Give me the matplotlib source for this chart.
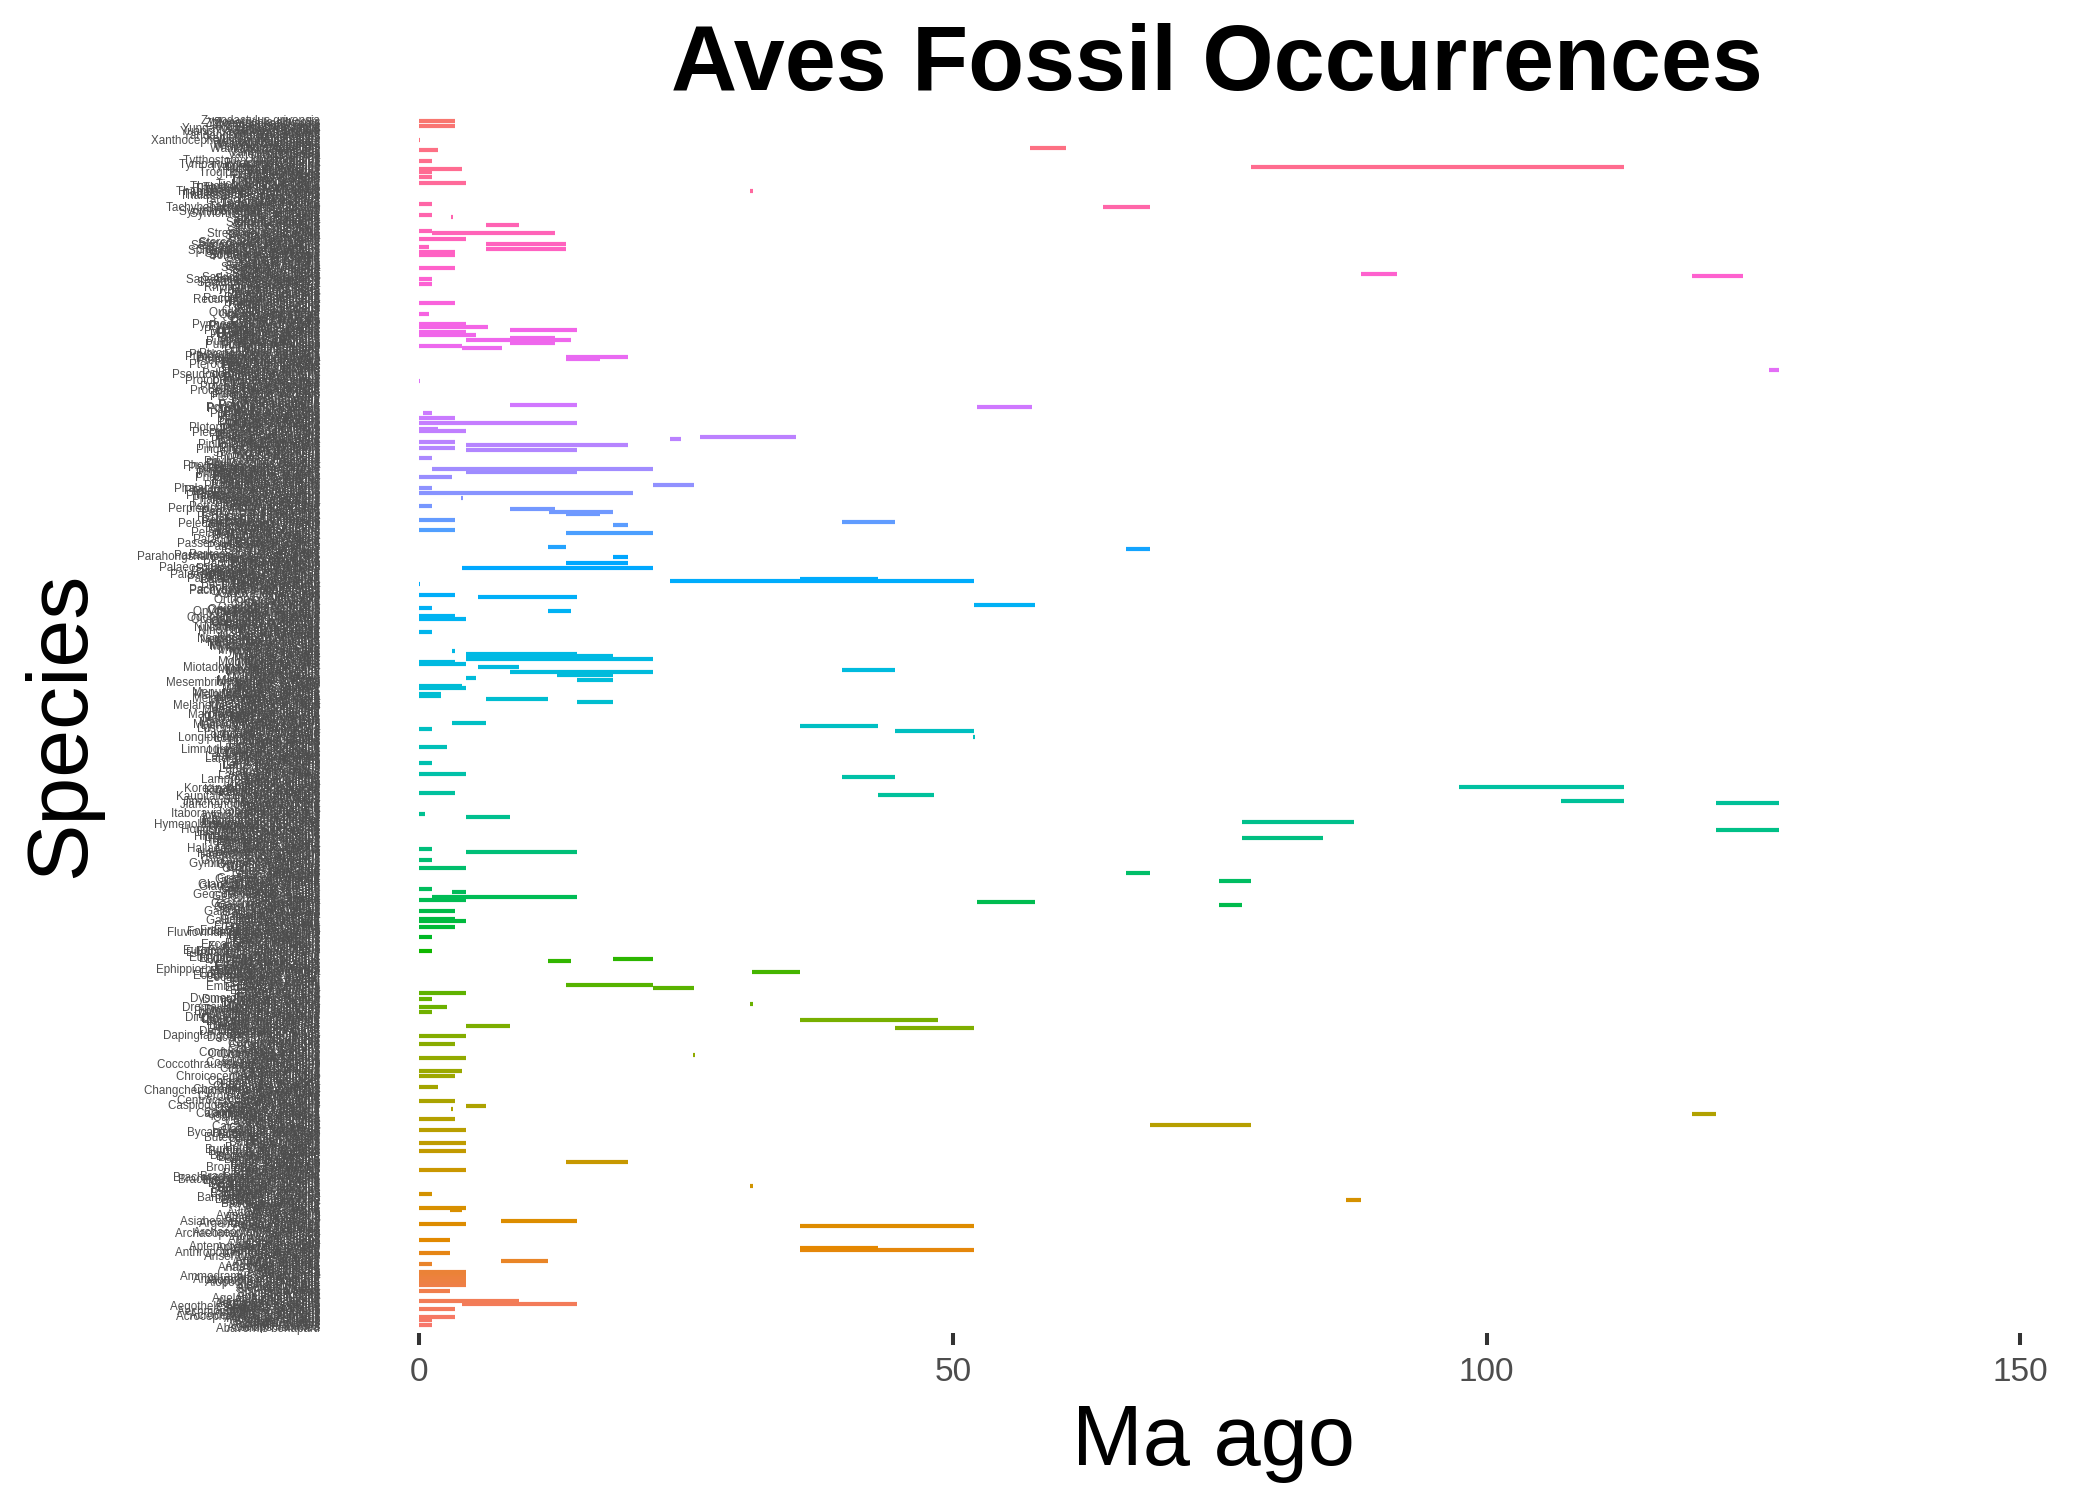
import matplotlib
matplotlib.use("Agg")
import matplotlib.pyplot as plt
import numpy as np

plt.rcParams['font.family'] = ['Liberation Sans', 'DejaVu Sans']

# species in factor order (bottom -> top)
species = [
    # A
    "Abavornis bonaparti", "Acanthis flammea", "Accipiter badius", "Accipiter cooperii", "Accipiter gentilis",
    "Accipiter nisus", "Accipiter striatus", "Aceros undulatus", "Acridotheres tristis",
    "Acrocephalus arundinaceus", "Acrocephalus scirpaceus", "Actitis hypoleucos", "Actitis macularius",
    "Aechmophorus occidentalis", "Aegithalos caudatus", "Aegolius acadicus", "Aegolius funereus",
    "Aegotheles novaezealandiae", "Aegotheles savesi", "Aegypius monachus", "Aepyornis maximus",
    "Aethia cristatella", "Aethia pusilla", "Agelaius phoeniceus", "Agelaius tricolor", "Aix galericulata",
    "Aix sponsa", "Alauda arvensis", "Alca torda", "Alcedo atthis", "Alectoris chukar", "Alectoris graeca",
    "Alectoris rufa", "Alectura lathami", "Alle alle", "Alopochen aegyptiaca", "Alopochen mauritiana",
    "Amaurornis phoenicurus", "Amazona vittata", "Ammodramus savannarum", "Anas acuta", "Anas americana",
    "Anas clypeata", "Anas crecca", "Anas discors", "Anas penelope", "Anas platyrhynchos",
    "Anas querquedula", "Anas rubripes", "Anas strepera", "Anhinga anhinga", "Anhinga grandis",
    "Anser albifrons", "Anser anser", "Anser brachyrhynchus", "Anser fabalis", "Anthropoides virgo",
    "Anthropornis nordenskjoeldi", "Anthus pratensis", "Anthus spinoletta", "Anthus trivialis",
    "Aptenodytes forsteri", "Aptenodytes patagonicus", "Apteryx australis", "Apteryx owenii", "Apus apus",
    "Apus melba", "Aquila chrysaetos", "Aquila heliaca", "Aquila nipalensis", "Ara macao",
    "Archaeopteryx lithographica", "Archaeopteryx siemensii", "Ardea alba", "Ardea cinerea",
    "Ardea herodias", "Ardea purpurea", "Ardeola ralloides", "Arenaria interpres", "Argentavis magnificens",
    "Asiahesperornis bazhanovi", "Asio flammeus", "Asio otus", "Athene cunicularia", "Athene noctua",
    "Avisaurus archibaldi", "Aythya affinis", "Aythya americana", "Aythya collaris", "Aythya ferina",
    "Aythya fuligula", "Aythya marila", "Aythya nyroca", "Aythya valisineria",
    # B
    "Baeolophus bicolor", "Balaeniceps rex", "Balearica pavonina", "Balearica regulorum",
    "Bambusicola thoracicus", "Baptornis advenus", "Baptornis varneri", "Bartramia longicauda",
    "Bathornis celeripes", "Bathornis veredus", "Bombycilla cedrorum", "Bombycilla garrulus",
    "Bombycilla japonica", "Bonasa umbellus", "Bostrychia hagedash", "Botaurus lentiginosus",
    "Botaurus stellaris", "Brachypteryx montana", "Brachyramphus brevirostris", "Brachyramphus marmoratus",
    "Bradypterus baboecala", "Branta bernicla", "Branta canadensis", "Branta dickeyi", "Branta hutchinsii",
    "Branta leucopsis", "Branta ruficollis", "Brontornis burmeisteri", "Bubo ascalaphus", "Bubo bubo",
    "Bubo scandiacus", "Bubo virginianus", "Bubulcus ibis", "Bucephala albeola", "Bucephala clangula",
    "Bucephala islandica", "Bucorvus leadbeateri", "Bulweria bulwerii", "Bulweria fallax",
    "Burhinus oedicnemus", "Burhinus vermiculatus", "Buteo buteo", "Buteo jamaicensis", "Buteo lagopus",
    "Buteo lineatus", "Buteo platypterus", "Buteo regalis", "Buteo rufinus", "Buteo swainsoni",
    "Buteogallus urubitinga", "Butorides striata", "Butorides virescens", "Bycanistes bucinator",
    "Bycanistes subcylindricus",
    # C
    "Cacatua galerita", "Cacatua sulphurea", "Cairina moschata", "Calcarius lapponicus", "Calidris alba",
    "Calidris alpina", "Calidris canutus", "Calidris ferruginea", "Calidris maritima", "Calidris minuta",
    "Callipepla californica", "Callipepla gambelii", "Calonectris diomedea", "Caprimulgus europaeus",
    "Caprimulgus vociferus", "Caracara plancus", "Cardinalis cardinalis", "Carduelis carduelis",
    "Carduelis chloris", "Caspiodontornis kobistanicus", "Casuarius casuarius", "Cathartes aura",
    "Catharus guttatus", "Centrocercus urophasianus", "Cepphus columba", "Cepphus grylle",
    "Cerorhinca monocerata", "Certhia familiaris", "Ceryle rudis", "Chaetura pelagica",
    "Changchengornis hengdaoziensis", "Charadrius alexandrinus", "Charadrius hiaticula",
    "Charadrius vociferus", "Chauna torquata", "Chen caerulescens", "Chen rossii", "Chlamydotis undulata",
    "Chlidonias niger", "Chloephaga picta", "Chordeiles minor", "Chroicocephalus ridibundus",
    "Ciconia ciconia", "Ciconia maltha", "Ciconia nigra", "Cinclus cinclus", "Circaetus gallicus",
    "Circus aeruginosus", "Circus cyaneus", "Clangula hyemalis", "Coccothraustes coccothraustes",
    "Coccyzus americanus", "Colaptes auratus", "Colinus virginianus", "Colius striatus", "Columba livia",
    "Columba oenas", "Columba palumbus", "Colymboides minutus", "Confuciusornis sanctus", "Contopus virens",
    "Coracias garrulus", "Corvus corax", "Corvus corone", "Corvus frugilegus", "Corvus monedula",
    "Coturnix coturnix", "Crax rubra", "Cuculus canorus", "Cygnus olor",
    # D
    "Dacelo novaeguineae", "Dapingfangornis sentisorhinus", "Dasornis emuinus", "Delichon urbicum",
    "Dendragapus obscurus", "Dendrocopos major", "Dendrocopos minor", "Dendrocygna arborea",
    "Dendrocygna bicolor", "Dendrocygna viduata", "Dendroica petechia", "Diatryma gigantea",
    "Dicrurus macrocercus", "Didunculus strigirostris", "Dinopium benghalense", "Dinornis novaezealandiae",
    "Dinornis robustus", "Diomedea epomophora", "Diomedea exulans", "Diomedeoides brodkorbi",
    "Dolichonyx oryzivorus", "Dromaius baudinianus", "Dromaius novaehollandiae", "Dromornis stirtoni",
    "Dryocopus martius", "Dryocopus pileatus", "Dryolimnas cuvieri", "Ducula pacifica",
    "Dumetella carolinensis", "Dysmorodrepanis munroi",
    # E
    "Eclectus roratus", "Egretta caerulea", "Egretta garzetta", "Egretta thula", "Egretta tricolor",
    "Elanus caeruleus", "Elanus leucurus", "Emberiza citrinella", "Emberiza schoeniclus", "Emeus crassus",
    "Emeus huttoni", "Empidonax traillii", "Enantiornis leali", "Enantiornis martini", "Eoalulavis hoyasi",
    "Eocathayornis walkeri", "Eoconfuciusornis zhengi", "Eoenantiornis buhleri", "Eogranivora edentulata",
    "Eolophus roseicapilla", "Eopengornis martini", "Ephippiorhynchus senegalensis", "Eremophila alpestris",
    "Erithacus rubecula", "Esacus magnirostris", "Eudocimus albus", "Eudocimus ruber", "Eudromia elegans",
    "Eudyptes chrysocome", "Eudyptes chrysolophus", "Eudyptes pachyrhynchus", "Eudyptula minor",
    "Eulampis jugularis", "Euphagus cyanocephalus", "Eupodotis senegalensis", "Eurotrochilus inexpectatus",
    "Euryapteryx curtus", "Eurypyga helias", "Eurystomus orientalis", "Excalfactoria chinensis",
    # F
    "Falco columbarius", "Falco mexicanus", "Falco peregrinus", "Falco rusticolus", "Falco sparverius",
    "Falco tinnunculus", "Ficedula albicollis", "Ficedula hypoleuca", "Fluvioviridavis platyrhamphus",
    "Foudia madagascariensis", "Francolinus francolinus", "Fratercula arctica", "Fratercula cirrhata",
    "Fregata magnificens", "Fringilla coelebs", "Fulica atra",
    # G
    "Galerida cristata", "Gallicolumba luzonica", "Gallinago gallinago", "Gallinago media",
    "Gallinula chloropus", "Gallinula comeri", "Gallinula galeata", "Gallirallus australis",
    "Gallirallus philippensis", "Gallus gallus", "Gallus varius", "Gansus yumenensis", "Garrulus glandarius",
    "Gastornis giganteus", "Gastornis parisiensis", "Gavia adamsii", "Gavia arctica", "Gavia immer",
    "Gavia stellata", "Gelochelidon nilotica", "Genyornis newtoni", "Geococcyx californianus",
    "Geospiza fortis", "Geothlypis trichas", "Geranoides jepseni", "Geronticus eremita",
    "Glareola pratincola", "Glaucidium brasilianum", "Glaucidium passerinum", "Gobipteryx minuta",
    "Goura cristata", "Gracula religiosa", "Gracupica nigricollis", "Grallina cyanoleuca", "Grus americana",
    "Grus antigone", "Grus canadensis", "Grus grus", "Grus japonensis", "Grus rubicunda",
    "Guaruba guarouba", "Guttera pucherani", "Gygis alba", "Gymnogyps amplus", "Gymnogyps californianus",
    "Gypaetus barbatus", "Gypohierax angolensis", "Gyps africanus", "Gyps fulvus", "Gyps rueppelli",
    # H
    "Haematopus bachmani", "Haematopus ostralegus", "Haematopus palliatus", "Halcyon smyrnensis",
    "Haliaeetus albicilla", "Haliaeetus leucocephalus", "Haliastur indus", "Harpagornis moorei",
    "Harpia harpyja", "Hemiprocne comata", "Hesperornis crassipes", "Hesperornis regalis",
    "Heteroscelus incanus", "Hieraaetus pennatus", "Himantopus himantopus", "Himantopus mexicanus",
    "Hippolais icterina", "Hirundo rustica", "Histrionicus histrionicus", "Hongshanornis longicresta",
    "Hydrobates pelagicus", "Hydroprogne caspia", "Hylocichla mustelina", "Hymenolaimus malacorhynchos",
    # I J K
    "Iberomesornis romerali", "Ibidorhyncha struthersii", "Ichthyornis antecessor", "Ichthyornis dispar",
    "Icterus galbula", "Icterus spurius", "Ictinia mississippiensis", "Itaboravis elaphrocnemoides",
    "Ixobrychus exilis", "Ixobrychus minutus",
    "Jabiru mycteria", "Jacana jacana", "Jacana spinosa", "Jeholornis prima", "Jianchangornis microdonta",
    "Jibeinia luanhera", "Jinzhouornis zhangjiyingia", "Junco hyemalis", "Junco phaeonotus", "Jynx torquilla",
    "Kaupifalco monogrammicus", "Kelenken guillermoi", "Ketupa ketupu", "Ketupa zeylonensis",
    "Kittacincla malabarica", "Kizylkumavis cretacea", "Koreanaornis hamanensis", "Kumimanu biceae",
    "Kupoupou stilwelli", "Kuszholia mengi",
    # L
    "Lagopus lagopus", "Lagopus leucura", "Lagopus muta", "Lamprotornis superbus", "Lanius collurio",
    "Lanius excubitor", "Lanius ludovicianus", "Lanius senator", "Larus argentatus", "Larus californicus",
    "Larus canus", "Larus delawarensis", "Larus fuscus", "Larus glaucescens", "Larus hyperboreus",
    "Larus marinus", "Larus occidentalis", "Larus ridibundus", "Laterallus jamaicensis", "Leipoa ocellata",
    "Leptoptilos crumenifer", "Leptoptilos dubius", "Leptoptilos robustus", "Leucosticte arctoa",
    "Limnodromus griseus", "Limnodromus scolopaceus", "Limosa fedoa", "Limosa haemastica",
    "Limosa lapponica", "Limosa limosa", "Lithornis celetius", "Lithornis plebius", "Locustella naevia",
    "Lonchura punctulata", "Longipteryx chaoyangensis", "Longirostravis hani", "Lophodytes cucullatus",
    "Lophura nycthemera", "Loxia curvirostra", "Loxia leucoptera", "Lullula arborea",
    "Luscinia megarhynchos", "Luscinia svecica", "Lymnocryptes minimus",
    # M
    "Macrodontopteryx oweni", "Macronectes giganteus", "Macronectes halli", "Malurus cyaneus",
    "Mancalla californiensis", "Mancalla cedrosensis", "Mareca penelope", "Marplesornis mcculloughi",
    "Megaceryle alcyon", "Megaceryle maxima", "Megadyptes antipodes", "Megalapteryx didinus",
    "Megascops asio", "Melanerpes carolinus", "Melanerpes erythrocephalus", "Melanitta americana",
    "Melanitta fusca", "Melanitta nigra", "Melanitta perspicillata", "Melanocorypha calandra",
    "Meleagris gallopavo", "Meleagris ocellata", "Melopsittacus undulatus", "Melospiza melodia",
    "Menura novaehollandiae", "Mergellus albellus", "Mergus australis", "Mergus merganser",
    "Mergus serrator", "Merops apiaster", "Merops ornatus", "Mesembriornis milneedwardsi",
    "Messelornis cristata", "Micrathene whitneyi", "Microgoura meeki", "Micropsitta pusio",
    "Milvus migrans", "Milvus milvus", "Mimus gilvus", "Mimus polyglottos", "Miocitta galbreathi",
    "Mionetta blanchardi", "Miotadorna sanctibathansi", "Mirafra javanica", "Mniotilta varia",
    "Molothrus ater", "Monticola saxatilis", "Montifringilla nivalis", "Morus bassanus", "Morus capensis",
    "Morus serrator", "Motacilla alba", "Motacilla cinerea", "Motacilla flava", "Muscicapa striata",
    "Mycteria americana", "Mycteria ibis", "Myiarchus crinitus", "Myiopsitta monachus",
    "Mystacornis crossleyi",
    # N
    "Nanantius eos", "Nannopterum auritum", "Nannopterum harrisi", "Necrosyrtes monachus",
    "Neophron percnopterus", "Nesospiza acunhae", "Nestor meridionalis", "Nestor notabilis",
    "Netta peposaca", "Netta rufina", "Ninox novaeseelandiae", "Nothura maculosa",
    "Nucifraga caryocatactes", "Numenius americanus", "Numenius arquata", "Nycticorax nycticorax",
    # O
    "Oceanites oceanicus", "Oceanodroma castro", "Oceanodroma leucorhoa", "Ocyphaps lophotes",
    "Odontophorus gujanensis", "Oena capensis", "Oenanthe hispanica", "Oenanthe oenanthe",
    "Onychoprion anaethetus", "Onychoprion fuscatus", "Opisthocomus hoazin", "Oporornis formosus",
    "Oreortyx pictus", "Oriolus chinensis", "Oriolus oriolus", "Ortalis canicollis", "Ortalis vetula",
    "Orthonyx temminckii", "Otis tarda", "Otus asio", "Otus scops", "Oxyura australis",
    "Oxyura jamaicensis", "Oxyura leucocephala",
    # P
    "Pachydyptes ponderosus", "Pachyornis elephantopus", "Pachyornis geranoides", "Pachyptila belcheri",
    "Pachyptila turtur", "Pachyptila vittata", "Pachyramphus aglaiae", "Pagophila eburnea",
    "Palaeeudyptes gunnari", "Palaeeudyptes klekowskii", "Palaelodus ambiguus", "Palaelodus gracilipes",
    "Palaeochenoides mioceanus", "Palaeoglaux artophoron", "Palaeoglaux perrierensis",
    "Palaeortyx brevipes", "Palaeospheniscus bergi", "Palaeospheniscus patagonicus", "Palaeotis weigelti",
    "Pandion haliaetus", "Pandion homalopteron", "Pandion lovensis", "Panurus biarmicus",
    "Parabuteo unicinctus", "Paradisaea apoda", "Parahongshanornis chaoyangensis",
    "Paraortygoides messelensis", "Parkesia noveboracensis", "Parus ater", "Parus caeruleus", "Parus major",
    "Parvigyps praecox", "Passer domesticus", "Passer hispaniolensis", "Passer montanus",
    "Passerculus sandwichensis", "Passerella iliaca", "Passerina cyanea", "Patagopteryx deferrariisi",
    "Pavo cristatus", "Pavo muticus", "Pelagodroma marina", "Pelagornis chilensis",
    "Pelagornis mauretanicus", "Pelagornis miocaenus", "Pelagornis orri", "Pelagornis sandersi",
    "Pelecanoides garnotii", "Pelecanoides urinatrix", "Pelecanus crispus", "Pelecanus erythrorhynchos",
    "Pelecanus occidentalis", "Pelecanus onocrotalus", "Pelecanus rufescens", "Penelope obscura",
    "Penelope purpurascens", "Perdix dauurica", "Perdix perdix", "Pericrocotus flammeus",
    "Perisoreus canadensis", "Pernis apivorus", "Perplexicervix microcephalon", "Petrochelidon fulva",
    "Petrochelidon pyrrhonota", "Petroica australis", "Phaethon aethereus", "Phaethon lepturus",
    "Phaethon rubricauda", "Phalacrocorax aristotelis", "Phalacrocorax atriceps", "Phalacrocorax auritus",
    "Phalacrocorax brasilianus", "Phalacrocorax capensis", "Phalacrocorax carbo", "Phalacrocorax pelagicus",
    "Phalacrocorax penicillatus", "Phalacrocorax perspicillatus", "Phalacrocorax urile",
    "Phalaenoptilus nuttallii", "Phalaropus fulicarius", "Phalaropus lobatus", "Phalaropus tricolor",
    "Phasianus colchicus", "Phasianus versicolor", "Pheucticus ludovicianus", "Philomachus pugnax",
    "Phoebastria albatrus", "Phoebastria immutabilis", "Phoebastria nigripes", "Phoenicopterus croizeti",
    "Phoenicopterus ruber", "Phoenicurus ochruros", "Phoenicurus phoenicurus", "Phorusrhacos longissimus",
    "Phylloscopus collybita", "Phylloscopus sibilatrix", "Phylloscopus trochilus", "Pica hudsonia",
    "Pica pica", "Picoides arcticus", "Picoides pubescens", "Picoides tridactylus", "Picoides villosus",
    "Picus canus", "Picus viridis", "Pinguinus alfrednewtoni", "Pinguinus impennis", "Pinicola enucleator",
    "Pipilo chlorurus", "Pipilo erythrophthalmus", "Piranga ludoviciana", "Piranga olivacea",
    "Pitangus sulphuratus", "Platalea ajaja", "Platalea leucorodia", "Platycercus elegans",
    "Platycercus eximius", "Plectrophenax nivalis", "Plectropterus gambensis", "Plegadis chihi",
    "Plegadis falcinellus", "Ploceus cucullatus", "Plotopterum joaquinensis", "Pluvialis apricaria",
    "Pluvialis dominica", "Pluvialis squatarola", "Podargus strigoides", "Podiceps auritus",
    "Podiceps cristatus", "Podiceps grisegena", "Podiceps nigricollis", "Podiceps parvus",
    "Podilymbus podiceps", "Poecile atricapillus", "Polioptila caerulea", "Polysticta stelleri",
    "Pooecetes gramineus", "Porphyrio hochstetteri", "Porphyrio martinica", "Porphyrio porphyrio",
    "Porzana carolina", "Porzana parva", "Porzana porzana", "Porzana pusilla", "Presbyornis isoni",
    "Presbyornis pervetus", "Primobucco mcgrewi", "Primoscens minutus", "Prinia subflava",
    "Procellaria aequinoctialis", "Procellaria cinerea", "Procellaria parkinsoni",
    "Procellaria westlandica", "Progne chalybea", "Progne subis", "Protoazin parisiensis",
    "Protonotaria citrea", "Protopteryx fengningensis", "Prunella collaris", "Prunella modularis",
    "Psaltriparus minimus", "Pseudodontornis longirostris", "Psilopterus bachmanni", "Psittacula eupatria",
    "Psittacula krameri", "Psittacus erithacus", "Pterocles alchata", "Pterocles exustus",
    "Pterocles orientalis", "Pterodroma arminjoniana", "Pterodroma cahow", "Pterodroma hasitata",
    "Pterodroma macroptera", "Pterodroma mollis", "Pterodroma phaeopygia", "Ptilonorhynchus violaceus",
    "Ptychoramphus aleuticus", "Ptyonoprogne rupestris", "Puffinus assimilis", "Puffinus baroli",
    "Puffinus carneipes", "Puffinus gravis", "Puffinus griseus", "Puffinus lherminieri",
    "Puffinus mauretanicus", "Puffinus nativitatis", "Puffinus opisthomelas", "Puffinus pacificus",
    "Puffinus puffinus", "Puffinus tenuirostris", "Puffinus yelkouan", "Pulsatrix perspicillata",
    "Pycnonotus jocosus", "Pygoscelis adeliae", "Pygoscelis antarcticus", "Pygoscelis grandis",
    "Pygoscelis papua", "Pyrocephalus rubinus", "Pyrrhocorax graculus", "Pyrrhocorax pyrrhocorax",
    "Pyrrhula pyrrhula", "Pyrrhura frontalis",
    # Q R
    "Quelea cardinalis", "Quelea erythrops", "Quelea quelea", "Quercypsitta ivani", "Quercypsitta sudrei",
    "Quiscalus major", "Quiscalus mexicanus", "Quiscalus quiscula",
    "Rallus aquaticus", "Rallus crepitans", "Rallus elegans", "Rallus limicola", "Rallus longirostris",
    "Ramphastos toco", "Raphus cucullatus", "Recurvirostra americana", "Recurvirostra avosetta",
    "Regulus calendula", "Regulus regulus", "Remiz pendulinus", "Rhea americana", "Rhea pennata",
    "Rhodostethia rosea", "Rhynchops niger", "Rhynchotus rufescens", "Riparia riparia",
    "Rissa brevirostris", "Rissa tridactyla",
    # S
    "Sagittarius serpentarius", "Salpinctes obsoletus", "Sapeornis chaoyangensis", "Sarcoramphus papa",
    "Sarkidiornis melanotos", "Saxicola rubetra", "Saxicola rubicola", "Sayornis phoebe", "Scolopax minor",
    "Scolopax rusticola", "Scopus umbretta", "Seiurus aurocapilla", "Selasphorus rufus", "Serinus canaria",
    "Serinus serinus", "Setophaga ruticilla", "Sialia sialis", "Sitta canadensis", "Sitta europaea",
    "Somateria fischeri", "Somateria mollissima", "Somateria spectabilis", "Spheniscus demersus",
    "Spheniscus humboldti", "Spheniscus magellanicus", "Spheniscus mendiculus", "Spheniscus urbinai",
    "Spizella passerina", "Stercorarius longicaudus", "Stercorarius parasiticus", "Stercorarius pomarinus",
    "Stercorarius skua", "Sterna dougallii", "Sterna forsteri", "Sterna hirundo", "Sterna paradisaea",
    "Sternula albifrons", "Streptopelia decaocto", "Streptopelia turtur", "Strix aluco", "Strix nebulosa",
    "Strix occidentalis", "Strix varia", "Struthio camelus", "Sturnella magna", "Sturnella neglecta",
    "Sturnus vulgaris", "Sula dactylatra", "Sula leucogaster", "Sula sula", "Sylvia atricapilla",
    "Sylvia communis", "Sylviornis neocaledoniae", "Synthliboramphus antiquus", "Syrmaticus reevesii",
    "Syrrhaptes paradoxus",
    # T
    "Tachybaptus novaehollandiae", "Tachybaptus ruficollis", "Tachycineta bicolor", "Tadorna ferruginea",
    "Tadorna tadorna", "Talpanas lippa", "Tauraco erythrolophus", "Tetrao tetrix", "Tetrao urogallus",
    "Thalassarche chrysostoma", "Thalassarche melanophris", "Thalasseus sandvicensis",
    "Thambetochen chauliodous", "Thambetochen xanion", "Threskiornis aethiopicus",
    "Threskiornis spinicollis", "Thryothorus ludovicianus", "Tichodroma muraria", "Tinamus major",
    "Torotix clemensi", "Toxostoma rufum", "Tribonyx mortierii", "Tringa glareola", "Tringa nebularia",
    "Tringa totanus", "Troglodytes aedon", "Troglodytes troglodytes", "Turdus iliacus", "Turdus merula",
    "Turdus migratorius", "Turdus philomelos", "Tympanuchus cupido", "Tympanuchus phasianellus",
    "Tyrannus tyrannus", "Tyto alba", "Tytthostonyx glauconiticus",
    # U - Z
    "Upupa antaios", "Upupa epops", "Uria aalge", "Uria lomvia",
    "Vanellus chilensis", "Vanellus vanellus", "Vegavis iaai", "Vireo olivaceus",
    "Waimanu manneringi", "Waimanu tuatahi", "Wellnhoferia grandis", "Wilsonia canadensis",
    "Wilsonia pusilla", "Wimanornis seldeni",
    "Xanthocephalus xanthocephalus", "Xema sabini", "Xenicibis xympithecus", "Xenicus longipes",
    "Yandangornis longicaudus", "Yanornis martini", "Yixianornis grabaui", "Yuanchuavis kompsosoura",
    "Yuhina flavicollis", "Yungavolucris brevipedalis",
    "Zenaida asiatica", "Zenaida macroura", "Zhongjianornis yangi", "Zhyraornis kashkarovi",
    "Zonotrichia albicollis", "Zygodactylus grivensis",
]

H = 0.0117  # Holocene-only records (too short to show)

# oldest occurrence (Ma), same order as species
first_ma = [
    H, H, 1.26, H, H, H, 1.26, H, 3.4, H, H, H, H, H, 3.4, H, H, H, 14.8, H,
    9.4, H, H, H, H, H, H, H, 2.9, H, H, H, 4.4, H, 4.4, H, 4.4, H, 4.4, H,
    4.4, H, 4.4, H, H, H, H, H, 1.26, H, 12.1, H, H, H, H, H, 2.9, H, 52.0, H,
    43.0, H, H, H, H, H, 2.9, H, H, H, H, H, H, H, H, H, 52.0, H, 4.4, H,
    14.8, H, H, H, H, H, H, H, 4.0, H, 4.4, H, H, H, H, H, 88.2, H, H, H,
    1.26, H, H, H, H, H, 31.3, H, H, H, H, H, H, H, H, H, H, H, 4.4, H,
    H, H, H, H, 19.6, H, H, H, H, H, H, H, 4.4, H, H, H, H, H, 4.4, H,
    H, H, H, H, H, H, H, H, 4.4, H, H, H, 77.9, H, H, H, 3.4, H, H, H,
    121.5, H, H, H, 3.2, H, 6.3, H, H, H, 3.4, H, H, H, H, H, H, H, H, H,
    1.76, H, H, H, H, H, H, H, 3.4, H, H, H, 4.0, H, H, H, H, H, H, H,
    H, H, 4.4, H, 25.9, H, H, H, H, H, H, H, 3.4, H, H, H, H, H, 4.4, H,
    H, H, H, H, 52.0, H, 8.5, H, H, H, 48.6, H, H, H, H, H, 1.26, H, H, H,
    2.6, H, 31.3, H, H, H, 1.26, H, H, H, 4.4, H, H, H, 25.8, H, 21.9, H, H, H,
    H, H, H, H, H, H, 35.7, H, H, H, H, H, H, H, 14.2, H, 21.9, H, H, H,
    H, H, 1.26, H, H, H, H, H, H, H, H, H, 1.26, H, H, H, H, H, H, H,
    3.4, H, H, H, 4.4, H, 3.4, H, H, H, H, H, 3.4, H, H, H, 77.1, H, 57.7, H,
    4.4, H, 14.8, H, H, H, 4.4, H, 1.26, H, H, H, H, H, 77.9, H, H, H, H, H,
    68.5, H, H, H, 4.4, H, H, H, H, H, 1.26, H, H, H, H, H, 14.8, H, 1.26, H,
    H, H, H, H, H, H, 84.7, H, H, H, H, H, 127.4, H, H, H, H, H, 87.6, H,
    H, H, 8.5, H, 0.6, H, H, H, H, H, H, H, 127.4, H, 112.9, H, H, H, 48.2, H,
    3.4, H, H, H, 112.9, H, H, H, H, H, H, H, 44.6, H, 4.4, H, H, H, H, H,
    H, H, 1.26, H, H, H, H, H, H, H, H, H, H, H, 2.6, H, H, H, H, H,
    H, H, 52.1, H, H, H, 52.0, H, 1.26, H, 43.0, H, 6.3, H, H, H, H, H, H, H,
    H, H, H, H, H, H, H, H, 18.2, H, 12.1, H, 2.1, H, 2.1, H, H, H, 4.4, H,
    4.0, H, H, H, 18.2, H, 5.3, H, 18.2, H, 21.9, H, 44.6, H, 9.4, H, 4.4, H, 3.4, H,
    21.9, H, 18.2, H, 14.8, H, 3.4, H, H, H, H, H, H, H, H, H, H, H, H, H,
    1.26, H, H, H, H, H, H, H, H, H, 4.4, H, 3.4, H, H, H, 14.2, H, 1.26, H,
    57.7, H, H, H, H, H, 14.8, H, 3.4, H, H, H, H, H, H, H, 0.13, H, 52.0, H,
    43.0, H, H, H, H, H, H, H, 21.9, H, H, H, 19.6, H, H, H, 19.6, H, H, H,
    H, H, 68.5, H, 13.8, H, H, H, H, H, H, H, H, H, 21.9, H, 3.4, H, H, H,
    19.6, H, 44.6, H, 3.4, H, H, H, 17.0, H, 18.2, H, 12.7, H, 1.26, H, H, H, H, H,
    4.1, H, H, H, 20.0, H, H, H, 1.26, H, 25.8, H, H, H, H, H, 3.1, H, H, H,
    14.8, H, 21.9, H, H, H, H, H, H, H, 1.26, H, H, H, H, H, 14.8, H, 3.4, H,
    19.6, H, 3.4, H, 24.5, H, 35.3, H, H, H, 4.4, H, 1.76, H, H, H, 14.8, H, H, H,
    3.4, H, H, H, 1.26, H, H, H, 57.4, H, 14.8, H, H, H, H, H, H, H, H, H,
    H, H, H, H, H, H, H, H, 0.13, H, H, H, H, H, H, H, 127.4, H, H, H,
    H, H, H, H, 17.0, H, 19.6, H, H, H, H, H, 7.8, H, 4.0, H, 12.7, H, 14.2, H,
    12.7, H, 5.3, H, 4.4, H, 14.8, H, 6.5, H, 4.4, H, H, H, H, H, H, H, 0.9, H,
    H, H, H, H, H, H, 3.4, H, H, H, H, H, H, H, H, H, H, H, H, H,
    1.26, H, H, H, 1.26, H, 124.0, H, 91.6, H, H, H, 3.4, H, H, H, H, H, H, H,
    H, H, 3.4, H, 3.4, H, 13.8, H, 0.9, H, 13.8, H, H, H, 4.4, H, H, H, 12.7, H,
    1.26, H, H, H, 9.4, H, H, H, H, H, 3.2, H, 1.26, H, H, H, H, H, 68.5, H,
    1.26, H, H, H, H, H, H, H, H, H, 31.3, H, H, H, H, H, 4.4, H, H, H,
    1.26, H, H, H, 1.26, H, 4.0, H, 112.9, H, H, H, 1.26, H, H, H, H, H, H, H,
    1.8, H, 60.6, H, H, H, H, H, 0.13, H, H, H, H, H, H, H, H, H, 3.4, H,
    H, H, 3.4, H,
]

# youngest occurrence (Ma)
last_ma = [
    0, 0, 0, 0, 0, 0, 0, 0, 0, 0, 0, 0, 0, 0, 0, 0, 0, 0, 4.0, 0,
    0, 0, 0, 0, 0, 0, 0, 0, 0, 0, 0, 0, 0, 0, 0, 0, 0, 0, 0, 0,
    0, 0, 0, 0, 0, 0, 0, 0, 0, 0, 7.7, 0, 0, 0, 0, 0, 0, 0, 35.7, 0,
    35.7, 0, 0, 0, 0, 0, 0, 0, 0, 0, 0, 0, 0, 0, 0, 0, 35.7, 0, 0, 0,
    7.7, 0, 0, 0, 0, 0, 0, 0, 2.9, 0, 0, 0, 0, 0, 0, 0, 86.8, 0, 0, 0,
    0, 0, 0, 0, 0, 0, 31.0, 0, 0, 0, 0, 0, 0, 0, 0, 0, 0, 0, 0, 0,
    0, 0, 0, 0, 13.8, 0, 0, 0, 0, 0, 0, 0, 0, 0, 0, 0, 0, 0, 0, 0,
    0, 0, 0, 0, 0, 0, 0, 0, 0, 0, 0, 0, 68.5, 0, 0, 0, 0, 0, 0, 0,
    119.2, 0, 0, 0, 3.0, 0, 4.4, 0, 0, 0, 0, 0, 0, 0, 0, 0, 0, 0, 0, 0,
    0, 0, 0, 0, 0, 0, 0, 0, 0, 0, 0, 0, 0, 0, 0, 0, 0, 0, 0, 0,
    0, 0, 0, 0, 25.7, 0, 0, 0, 0, 0, 0, 0, 0, 0, 0, 0, 0, 0, 0, 0,
    0, 0, 0, 0, 44.6, 0, 4.4, 0, 0, 0, 35.7, 0, 0, 0, 0, 0, 0, 0, 0, 0,
    0, 0, 31.0, 0, 0, 0, 0, 0, 0, 0, 0, 0, 0, 0, 21.9, 0, 13.8, 0, 0, 0,
    0, 0, 0, 0, 0, 0, 31.2, 0, 0, 0, 0, 0, 0, 0, 12.1, 0, 18.2, 0, 0, 0,
    0, 0, 0, 0, 0, 0, 0, 0, 0, 0, 0, 0, 0, 0, 0, 0, 0, 0, 0, 0,
    0, 0, 0, 0, 0, 0, 0, 0, 0, 0, 0, 0, 0, 0, 0, 0, 74.9, 0, 52.3, 0,
    0, 0, 1.26, 0, 0, 0, 3.1, 0, 0, 0, 0, 0, 0, 0, 74.9, 0, 0, 0, 0, 0,
    66.2, 0, 0, 0, 0, 0, 0, 0, 0, 0, 0, 0, 0, 0, 0, 0, 4.4, 0, 0, 0,
    0, 0, 0, 0, 0, 0, 77.1, 0, 0, 0, 0, 0, 121.5, 0, 0, 0, 0, 0, 77.1, 0,
    0, 0, 4.4, 0, 0, 0, 0, 0, 0, 0, 0, 0, 121.5, 0, 107.0, 0, 0, 0, 43.0, 0,
    0, 0, 0, 0, 97.4, 0, 0, 0, 0, 0, 0, 0, 39.6, 0, 0, 0, 0, 0, 0, 0,
    0, 0, 0, 0, 0, 0, 0, 0, 0, 0, 0, 0, 0, 0, 0, 0, 0, 0, 0, 0,
    0, 0, 51.9, 0, 0, 0, 44.6, 0, 0, 0, 35.7, 0, 3.1, 0, 0, 0, 0, 0, 0, 0,
    0, 0, 0, 0, 0, 0, 0, 0, 14.8, 0, 6.3, 0, 0, 0, 0, 0, 0, 0, 0, 0,
    0, 0, 0, 0, 14.8, 0, 4.4, 0, 12.9, 0, 8.5, 0, 39.6, 0, 5.5, 0, 0, 0, 0, 0,
    4.4, 0, 4.4, 0, 4.4, 0, 3.1, 0, 0, 0, 0, 0, 0, 0, 0, 0, 0, 0, 0, 0,
    0, 0, 0, 0, 0, 0, 0, 0, 0, 0, 0, 0, 0, 0, 0, 0, 12.1, 0, 0, 0,
    52.0, 0, 0, 0, 0, 0, 5.5, 0, 0, 0, 0, 0, 0, 0, 0, 0, 0, 0, 23.5, 0,
    35.7, 0, 0, 0, 0, 0, 0, 0, 4.0, 0, 0, 0, 13.8, 0, 0, 0, 18.2, 0, 0, 0,
    0, 0, 66.2, 0, 12.1, 0, 0, 0, 0, 0, 0, 0, 0, 0, 13.8, 0, 0, 0, 0, 0,
    18.2, 0, 39.6, 0, 0, 0, 0, 0, 13.8, 0, 12.2, 0, 8.5, 0, 0, 0, 0, 0, 0, 0,
    3.9, 0, 0, 0, 0, 0, 0, 0, 0, 0, 21.9, 0, 0, 0, 0, 0, 0, 0, 0, 0,
    4.4, 0, 1.26, 0, 0, 0, 0, 0, 0, 0, 0, 0, 0, 0, 0, 0, 4.4, 0, 0, 0,
    4.4, 0, 0, 0, 23.5, 0, 26.3, 0, 0, 0, 0, 0, 0, 0, 0, 0, 0, 0, 0, 0,
    0, 0, 0, 0, 0.4, 0, 0, 0, 52.3, 0, 8.5, 0, 0, 0, 0, 0, 0, 0, 0, 0,
    0, 0, 0, 0, 0, 0, 0, 0, 0, 0, 0, 0, 0, 0, 0, 0, 126.4, 0, 0, 0,
    0, 0, 0, 0, 13.8, 0, 13.8, 0, 0, 0, 0, 0, 4.0, 0, 0, 0, 8.5, 0, 4.4, 0,
    8.5, 0, 0, 0, 0, 0, 8.5, 0, 0, 0, 0, 0, 0, 0, 0, 0, 0, 0, 0, 0,
    0, 0, 0, 0, 0, 0, 0, 0, 0, 0, 0, 0, 0, 0, 0, 0, 0, 0, 0, 0,
    0, 0, 0, 0, 0, 0, 119.2, 0, 88.2, 0, 0, 0, 0, 0, 0, 0, 0, 0, 0, 0,
    0, 0, 0, 0, 0, 0, 6.3, 0, 0, 0, 6.3, 0, 0, 0, 0, 0, 0, 0, 1.26, 0,
    0, 0, 0, 0, 6.3, 0, 0, 0, 0, 0, 3.0, 0, 0, 0, 0, 0, 0, 0, 64.1, 0,
    0, 0, 0, 0, 0, 0, 0, 0, 0, 0, 31.0, 0, 0, 0, 0, 0, 0, 0, 0, 0,
    0, 0, 0, 0, 0, 0, 0, 0, 77.9, 0, 0, 0, 0, 0, 0, 0, 0, 0, 0, 0,
    0, 0, 57.2, 0, 0, 0, 0, 0, 0, 0, 0, 0, 0, 0, 0, 0, 0, 0, 0, 0,
    0, 0, 0, 0,
]

x_ticks = [0, 50, 100, 150]

print(len(species), len(first_ma), len(last_ma))
assert len(species) == len(first_ma) == len(last_ma)


def hue_pal(n, h=(15, 375), c=100, l=65):
    # ggplot2 default discrete colour scale (HCL hues)
    hues = np.linspace(h[0], h[1] - 360 / n, n)
    hr = np.deg2rad(hues)
    u, v = c * np.cos(hr), c * np.sin(hr)
    Xn, Yn, Zn = 0.95047, 1.0, 1.08883
    den = Xn + 15 * Yn + 3 * Zn
    un, vn = 4 * Xn / den, 9 * Yn / den
    Y = Yn * ((l + 16) / 116) ** 3
    up = u / (13 * l) + un
    vp = v / (13 * l) + vn
    X = Y * 9 * up / (4 * vp)
    Z = Y * (12 - 3 * up - 20 * vp) / (4 * vp)
    M = np.array([[3.2404542, -1.5371385, -0.4985314],
                  [-0.9692660, 1.8760108, 0.0415560],
                  [0.0556434, -0.2040259, 1.0572252]])
    rgb = M @ np.vstack([X, np.full_like(X, Y), Z])
    rgb = np.where(rgb <= 0.0031308, 12.92 * rgb, 1.055 * np.abs(rgb) ** (1 / 2.4) - 0.055)
    return np.clip(rgb.T, 0, 1)


n = len(species)
rows = np.arange(n)
cols = hue_pal(n)

fig = plt.figure(figsize=(21, 14.99), dpi=100)
ax = fig.add_axes([328 / 2100, 166 / 1499, (2060 - 328) / 2100, (1333 - 115) / 1499])

segs = ax.hlines(rows, last_ma, first_ma, colors=cols, linewidth=3.0)
segs.set_capstyle('butt')

ax.set_xlim(-8.52, 153.7)
ax.set_ylim(-3.74, 906.5)

ax.set_yticks(rows)
ax.set_yticklabels(species, fontsize=8.4, color='#4D4D4D')
ax.tick_params(axis='y', length=0, pad=5.8)

ax.set_xticks(x_ticks)
ax.set_xticklabels([str(t) for t in x_ticks], fontsize=24, color='#4D4D4D')
ax.tick_params(axis='x', length=8.6, width=2.9, color='#333333', pad=8.6)

for s in ax.spines.values():
    s.set_visible(False)

fig.text(1217 / 2100, 1 - 90 / 1499, 'Aves Fossil Occurrences', fontsize=66,
         fontweight='bold', ha='center', va='baseline')
fig.text(1213 / 2100, 1 - 1465 / 1499, 'Ma ago', fontsize=61, ha='center', va='baseline')
fig.text(62 / 2100, 1 - 725 / 1499, 'Species', fontsize=62, rotation=90,
         ha='center', va='center')

fig.savefig('out.png', dpi=100, facecolor='white')
